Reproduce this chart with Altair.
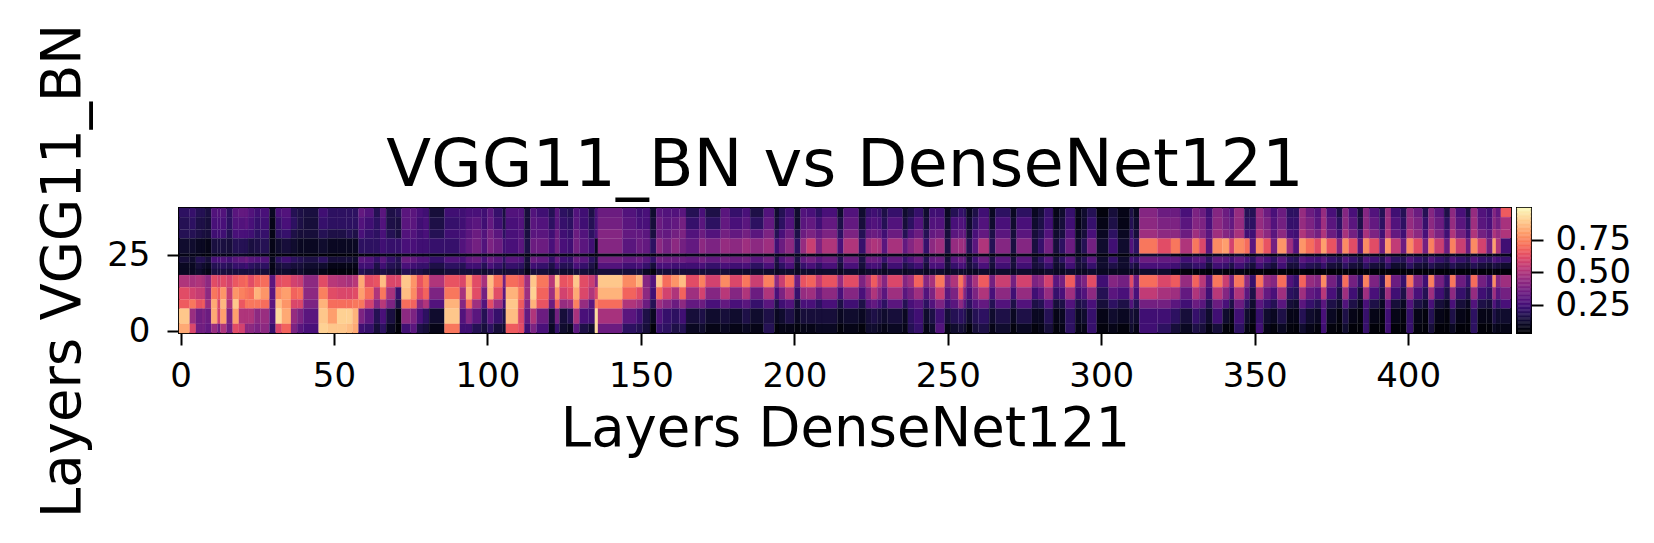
import altair as alt
import pandas as pd

# Each row: last layer of the vertical stripe, then the value (in hundredths)
# of each horizontal band from the top of the picture to the bottom.
band_rows = [(38, 40), (34, 37), (31, 33), (26, 30), (25, 25), (23, 24), (21, 22),
             (19, 20), (15, 18), (11, 14), (8, 10), (3, 7), (0, 2)]

stripes_a = [
[3,20,18,18,12,8,14,10,10,50,62,66,88,82],[5,22,20,18,12,8,12,10,10,48,58,72,45,60],
[7,18,16,16,10,8,18,14,12,50,55,64,35,35],[8,18,16,15,10,6,18,12,10,48,55,66,38,36],
[10,15,14,14,8,6,14,10,8,42,42,45,34,32],[12,28,26,24,15,8,26,18,15,62,72,82,82,45],
[13,28,26,24,15,8,26,18,15,58,66,60,58,35],[15,28,26,24,15,8,28,20,15,62,78,85,80,50],
[17,20,20,18,14,8,25,18,14,58,55,50,38,35],[19,30,28,26,18,10,30,22,15,65,78,88,80,62],
[21,32,28,26,18,10,32,22,15,68,74,65,50,58],[22,32,30,26,18,10,35,24,15,70,72,72,50,42],
[24,28,26,24,15,8,30,20,15,62,70,72,50,42],[26,24,22,20,16,8,28,18,14,68,84,72,42,38],
[29,26,24,22,18,8,28,20,14,70,78,70,45,42],[31,10,8,8,8,6,10,8,8,30,30,30,28,22],
[33,26,22,20,12,6,20,14,12,62,76,86,92,60],[36,28,26,22,14,6,24,16,12,64,80,78,82,68],
[38,18,20,16,12,6,20,14,10,58,68,60,44,38],[40,16,16,14,10,6,18,14,12,56,70,60,38,30],
[45,15,14,14,10,6,16,12,10,42,42,38,30,26],[48,24,22,18,12,5,20,12,8,62,74,84,88,90],
[51,20,20,16,10,5,14,8,6,52,62,70,80,88],[54,20,20,16,10,5,14,8,6,50,60,70,90,88],
[56,20,20,18,10,5,14,8,6,48,60,70,90,86],[58,20,20,16,10,5,12,8,6,52,62,72,84,82],
[60,32,28,26,20,6,30,24,18,82,80,72,38,24],[63,28,24,22,20,6,28,24,16,62,70,58,30,22],
[65,18,20,20,20,6,22,16,14,64,50,40,18,14],[67,30,28,26,24,8,30,24,16,86,72,52,26,20],
[70,16,16,18,22,8,22,18,14,60,48,38,15,10],[72,18,15,15,22,6,18,16,12,60,22,16,6,5],
[75,30,30,28,26,8,34,26,18,88,86,70,42,24],[77,30,30,28,26,8,32,24,16,78,76,68,38,30],
[79,26,24,24,24,8,28,22,16,64,60,42,26,16],[81,24,26,26,24,8,28,22,14,72,68,50,20,14],
[86,14,16,18,22,8,22,16,12,50,38,28,12,8],[91,24,22,24,22,8,28,20,14,64,72,84,88,72],
[93,24,24,26,28,8,26,18,14,60,48,40,28,24],[95,26,28,30,32,8,32,24,14,80,84,70,40,24],
[98,26,30,34,36,8,34,24,14,62,62,46,30,18],[100,24,24,28,28,8,26,18,12,48,36,28,18,14],
[102,30,32,36,38,8,34,26,14,86,84,62,30,20],[105,22,24,30,34,8,30,22,14,70,62,46,22,14],
[106,15,16,20,24,8,20,16,12,36,30,24,16,12],[110,28,26,26,26,8,30,22,14,70,84,88,86,66],
]
stripes_b = [
[112,28,28,28,30,8,28,20,14,66,72,66,60,62],[114,14,14,15,16,6,14,12,8,46,46,40,32,24],
[116,28,30,30,34,8,34,24,14,88,90,84,50,38],[120,24,28,30,34,8,32,22,14,72,68,64,34,26],
[122,18,20,24,26,8,22,16,12,52,46,34,14,10],[123.5,30,30,34,36,8,34,24,14,88,78,66,36,22],
[126,20,22,24,26,8,24,18,12,64,58,44,14,12],[128,18,20,22,24,8,22,18,12,66,62,46,18,10],
[130,28,30,34,36,8,34,26,14,88,82,74,48,30],[133,24,24,28,30,8,30,22,14,62,60,44,26,16],
[135,16,18,20,24,6,20,16,12,56,50,30,24,12],[136,26,26,26,10,6,14,10,12,42,60,74,92,92],
[144,34,36,40,40,8,36,28,14,88,84,70,48,34],[148.5,28,30,32,30,8,32,24,14,76,68,50,30,20],
[150.6,24,26,32,34,8,34,26,14,84,62,46,24,18],[153,26,26,30,32,8,30,22,10,40,42,34,16,14],
[155,12,14,15,20,6,22,14,6,28,24,18,10,5],[157,30,34,34,42,8,36,26,14,88,70,46,28,22],
[160,28,30,32,36,8,34,26,14,70,58,40,22,20],[162.6,28,32,36,42,8,34,24,14,78,50,34,20,16],
[164.7,30,36,38,36,8,34,24,14,86,68,42,24,18],[169,18,22,28,32,8,32,24,14,62,46,32,14,10],
[171,26,30,34,42,8,36,26,14,74,58,34,16,12],[176,16,20,28,38,8,32,22,14,58,40,26,12,8],
[179,30,32,36,44,8,36,26,14,76,52,32,14,10],[183,22,26,32,42,8,34,24,12,60,40,26,12,8],
[185.6,26,30,36,46,8,36,26,12,72,50,30,16,10],[190,16,20,30,42,8,30,20,12,56,34,22,12,8],
[193.5,28,32,38,46,8,36,26,12,74,50,30,16,18],[195,12,14,18,24,8,16,14,10,42,26,16,10,6],
[197,18,20,26,34,8,28,20,12,56,38,24,12,8],[200,24,28,34,42,8,34,26,12,70,50,28,16,8],
[202,12,12,16,20,8,16,12,10,34,22,14,10,6],[204,28,30,34,44,8,32,22,12,64,44,26,14,8],
[207,26,32,38,56,8,36,26,12,68,46,26,14,8],[209,20,24,32,38,8,30,20,12,54,34,20,14,10],
[214,26,32,38,50,8,34,26,12,64,42,26,14,10],[216,12,16,20,26,8,18,14,10,44,26,16,10,6],
[221,28,32,38,50,8,34,26,12,62,40,24,12,8],
]
stripes_c = [
[223.3,12,14,18,22,8,16,14,10,38,26,16,10,6],[225,22,26,32,46,8,34,24,12,50,38,28,14,12],
[227,24,28,34,50,8,34,26,12,66,50,32,16,12],[228.5,22,26,32,48,8,32,24,12,52,40,26,14,10],
[230.4,16,18,24,30,8,22,14,10,40,30,20,12,8],[235.3,22,28,34,48,8,32,24,12,60,46,30,14,10],
[237,12,14,18,32,8,22,16,10,40,30,18,10,8],[239,16,20,28,40,8,28,20,12,46,36,26,20,18],
[242,22,28,34,46,8,34,24,12,68,46,30,24,22],[244,12,14,18,22,6,18,14,10,40,28,20,12,8],
[246,24,28,32,42,8,32,26,12,48,38,28,16,12],[249,24,28,34,46,8,34,26,12,72,56,38,24,28],
[251,10,12,14,16,6,14,14,10,40,30,24,14,8],[253.5,18,26,30,44,8,30,22,12,50,38,30,18,12],
[255,22,28,32,46,8,34,26,12,72,62,42,20,14],[256,20,26,32,44,8,32,24,12,54,40,30,18,12],
[258,10,12,14,18,6,14,14,10,34,26,20,12,6],[260,16,20,26,30,8,24,18,10,48,38,28,18,14],
[263.5,24,28,32,50,8,34,26,12,66,50,32,20,16],[265.5,10,12,16,18,6,16,14,10,36,26,18,12,8],
[270.5,20,26,30,40,8,30,24,12,56,42,28,16,12],[272.4,10,12,14,15,6,14,14,10,36,24,16,10,6],
[277.4,20,26,30,40,8,30,24,12,58,44,28,16,10],[279.4,10,12,14,15,6,14,14,10,38,24,16,10,6],
[281.4,14,16,18,22,6,20,16,10,42,30,18,10,8],[284.3,22,24,28,36,8,30,22,12,58,44,28,18,14],
[286.3,8,10,12,14,6,14,12,10,30,22,14,8,6],[288.3,12,14,15,20,6,20,14,10,36,26,16,10,8],
[291.5,22,24,28,34,8,30,24,12,66,46,28,20,20],[293.5,8,8,10,12,6,14,14,10,32,24,16,10,8],
[295.4,12,12,14,18,6,18,14,10,38,28,18,12,8],[298.5,18,22,26,36,8,30,22,12,62,42,26,22,22],
[302.4,6,8,10,12,6,12,12,10,24,18,14,8,6],[305.4,14,16,20,24,6,22,16,10,40,30,20,12,8],
[309.3,8,8,10,12,6,12,12,10,36,26,16,10,6],[310.5,16,18,22,28,8,26,18,10,62,46,28,14,12],
[312.4,10,12,14,20,8,22,14,10,34,26,18,12,8],[318.3,40,42,46,72,12,34,26,12,70,54,36,24,24],
[322.7,34,38,42,62,12,32,26,12,60,48,36,24,20],[325.7,34,38,42,72,8,32,24,8,66,46,30,20,14],
[329.7,26,30,34,50,6,24,18,6,44,32,24,14,10],
]
stripes_d = [
[331.9,38,40,46,72,10,30,22,6,68,50,34,22,16],[334.1,34,38,40,60,8,30,22,6,52,42,30,18,14],
[336.3,24,26,30,30,8,20,14,5,30,24,18,12,8],[339.5,40,42,46,76,10,32,24,8,72,52,34,24,14],
[341.7,34,36,40,80,10,30,22,6,56,40,26,12,6],[343.3,28,32,36,58,8,24,16,6,36,26,16,8,5],
[346.6,44,44,48,76,12,32,24,8,72,50,34,24,20],[348.4,18,20,24,70,6,26,18,6,42,30,20,12,8],
[350.4,18,20,24,30,6,20,14,5,22,16,12,8,5],[352.8,44,44,50,76,10,32,24,6,72,48,30,22,24],
[355.3,34,38,42,64,8,26,18,5,44,32,22,12,8],[357.4,26,28,30,36,6,20,14,5,40,26,18,10,6],
[360.4,34,36,42,78,10,30,24,6,70,46,30,16,10],[362.5,20,22,26,46,6,20,14,5,28,20,14,8,6],
[364.5,20,22,24,28,6,18,14,5,22,18,12,8,5],[366.7,44,44,50,78,10,30,22,6,68,46,30,18,12],
[369.4,34,38,42,70,8,26,18,5,44,32,22,12,8],[371.6,28,30,36,62,8,24,16,5,40,28,18,10,6],
[373.4,44,46,50,80,10,30,22,6,76,52,30,26,24],[376.7,26,30,34,64,8,22,14,5,36,26,16,10,6],
[378.6,16,20,24,40,6,18,12,5,22,16,12,6,5],[380.6,40,42,48,76,10,28,20,6,70,46,28,16,12],
[383.5,26,30,36,62,8,22,14,5,36,24,16,8,5],[385.3,14,16,22,30,6,16,12,5,22,14,10,6,5],
[387.3,40,42,48,76,10,28,20,6,74,46,26,22,22],[390.6,28,32,38,62,8,24,14,5,38,26,16,8,5],
[392.5,18,20,24,34,6,18,12,5,20,16,10,6,5],[394.4,44,46,50,78,10,30,20,6,74,46,30,24,24],
[397.6,24,28,32,54,8,20,12,5,34,24,14,8,5],[399.5,18,20,24,34,6,18,12,5,22,16,10,6,5],
[401.7,42,44,50,76,10,28,20,6,72,44,28,22,22],[404.7,34,38,42,62,8,22,14,5,38,26,16,8,6],
[406.6,18,22,26,36,6,18,12,5,24,18,12,6,5],[408.5,40,42,48,74,10,28,18,6,74,46,26,18,14],
[411.7,30,34,38,56,8,22,14,5,36,24,14,8,5],[413.6,16,20,24,34,6,18,12,5,22,16,10,6,5],
[415.5,42,44,50,74,10,28,18,6,72,42,26,16,10],[418.8,26,30,36,56,8,22,14,5,34,22,14,8,5],
[420.4,16,20,24,34,6,18,12,5,22,16,10,6,5],[422.6,44,46,50,76,10,28,18,6,70,44,28,20,20],
[425.5,28,30,36,58,8,22,14,5,36,24,16,8,5],[427.5,24,26,30,36,6,20,12,5,26,20,14,8,5],
[428.6,40,42,50,80,10,28,16,6,76,46,28,16,10],[430.2,32,36,44,50,8,24,14,5,40,30,20,12,8],
[433.5,66,48,50,24,8,22,12,5,46,36,26,12,8],
]
x_ticks = [0, 50, 100, 150, 200, 250, 300, 350, 400]
y_ticks = [0, 25]
bar_ticks = [0.25, 0.5, 0.75]
bar_levels = [v / 100 for v in range(4, 99)]

records = []
start = -0.5
for row in stripes_a + stripes_b + stripes_c + stripes_d:
    for (lo, hi), v in zip(band_rows, row[1:]):
        records.append(dict(x0=start, x1=row[0], y0=lo - 0.5, y1=hi + 0.5, v=v / 100))
    start = row[0]
cells = pd.DataFrame(records)

FONT = "DejaVu Sans"
cscale = alt.Scale(scheme="magma", domain=[0.04, 0.99])
tick_style = dict(labelFontSize=34, labelFont=FONT, labelColor="black", tickSize=12, tickWidth=2,
                  tickColor="black", domain=False, grid=False, labelOverlap=False)
title_style = dict(titleFontSize=54.5, titleFontWeight="normal", titleFont=FONT, titleColor="black")

heat = alt.Chart(cells, width=1332, height=125, title=alt.TitleParams(
    "VGG11_BN vs DenseNet121", fontSize=65.5, fontWeight="normal", font=FONT, color="black", offset=-176
)).mark_rect(strokeWidth=0.2).encode(
    x=alt.X("x0:Q", scale=alt.Scale(domain=[-0.5, 433.5], nice=False, zero=False),
            axis=alt.Axis(values=x_ticks, title="Layers DenseNet121", labelPadding=14,
                          titlePadding=9, **tick_style, **title_style)),
    x2="x1:Q",
    y=alt.Y("y0:Q", scale=alt.Scale(domain=[-0.5, 40.5], nice=False, zero=False),
            axis=alt.Axis(values=y_ticks, title="Layers VGG11_BN", labelPadding=17,
                          titlePadding=16, **tick_style, **title_style)),
    y2="y1:Q",
    color=alt.Color("v:Q", scale=cscale, legend=None),
    stroke=alt.Color("v:Q", scale=cscale, legend=None),
)

bar = alt.Chart(pd.DataFrame({"level": bar_levels, "top": [v + 0.01 for v in bar_levels]}),
                width=14, height=125).mark_rect(strokeWidth=0.4).encode(
    y=alt.Y("level:Q", scale=alt.Scale(domain=[0.04, 0.99], nice=False, zero=False),
            axis=alt.Axis(values=bar_ticks, format=".2f", orient="right", title=None,
                          labelPadding=12, **tick_style)),
    y2="top:Q",
    color=alt.Color("level:Q", scale=cscale, legend=None),
    stroke=alt.Color("level:Q", scale=cscale, legend=None),
)

chart = alt.hconcat(heat, bar, spacing=2).configure_view(
    stroke="black", strokeWidth=2
).properties(padding={"left": 26, "top": 14, "right": 5, "bottom": 5}, background="white")

chart.save("out.html", embed_options={"renderer": "svg", "actions": False})
